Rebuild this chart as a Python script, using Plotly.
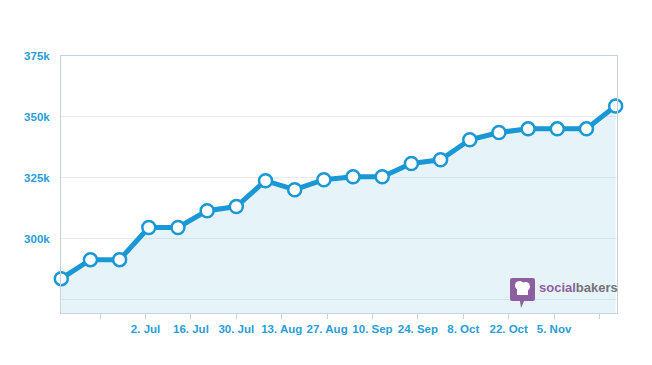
import plotly.graph_objects as go

dates = ["2012-06-06", "2012-06-15", "2012-06-24", "2012-07-03", "2012-07-12",
         "2012-07-21", "2012-07-30", "2012-08-08", "2012-08-17", "2012-08-26",
         "2012-09-04", "2012-09-13", "2012-09-22", "2012-10-01", "2012-10-10",
         "2012-10-19", "2012-10-28", "2012-11-06", "2012-11-15", "2012-11-24"]
fans = [283600, 291400, 291400, 304600, 304600, 311500, 313200, 323800, 320100, 324200,
        325400, 325400, 330900, 332400, 340600, 343600, 345100, 345100, 345100, 354500]

x_tickvals = ["2012-06-18", "2012-07-02", "2012-07-16", "2012-07-30", "2012-08-13",
              "2012-08-27", "2012-09-10", "2012-09-24", "2012-10-08", "2012-10-22",
              "2012-11-05", "2012-11-19"]
x_ticktext = ["", "2. Jul", "16. Jul", "30. Jul", "13. Aug", "27. Aug", "10. Sep",
              "24. Sep", "8. Oct", "22. Oct", "5. Nov", ""]
y_tickvals = [275000, 300000, 325000, 350000, 375000]
y_ticktext = ["", "300k", "325k", "350k", "375k"]

BLUE = "#1a98d5"
LABEL = "#2a9dd8"
AXIS = "#c4d3e0"
GRID = "#e8ecf0"

# page body has an 8px default margin, so figure is 644x357 with plot at (61..617, 56..313) on screen
OFF = 8
W, H = 644, 357
L, R, T, B = 61 - OFF, W - (617 - OFF), 56 - OFF, H - (313 - OFF)

fig = go.Figure()
fig.add_trace(go.Scatter(
    x=dates, y=fans, mode="lines+markers",
    line=dict(color=BLUE, width=5),
    marker=dict(size=13, color="white", line=dict(color=BLUE, width=2.5)),
    fill="tozeroy", fillcolor="rgba(26,152,213,0.11)",
    cliponaxis=False, hoverinfo="x+y",
))

def px(x):
    return (x - 61) / 556

def py(y):
    return (313 - y) / 257

logo_path = (f"M {px(512)},{py(278)} L {px(533)},{py(278)} Q {px(535)},{py(278)} {px(535)},{py(280)} "
             f"L {px(535)},{py(299)} Q {px(535)},{py(301)} {px(533)},{py(301)} "
             f"L {px(524)},{py(301)} L {px(521)},{py(308)} L {px(520)},{py(301)} "
             f"L {px(512)},{py(301)} Q {px(510)},{py(301)} {px(510)},{py(299)} "
             f"L {px(510)},{py(280)} Q {px(510)},{py(278)} {px(512)},{py(278)} Z")
shapes = [
    dict(type="path", xref="paper", yref="paper", path=logo_path,
         fillcolor="#8d5fa0", line=dict(width=0), layer="above"),
    dict(type="circle", xref="paper", yref="paper", x0=px(515), x1=px(524), y0=py(290), y1=py(281),
         fillcolor="white", line=dict(width=0), layer="above"),
    dict(type="circle", xref="paper", yref="paper", x0=px(521), x1=px(530), y0=py(291), y1=py(282),
         fillcolor="white", line=dict(width=0), layer="above"),
    dict(type="rect", xref="paper", yref="paper", x0=px(517), x1=px(528), y0=py(295), y1=py(289),
         fillcolor="white", line=dict(width=0), layer="above"),
]

fig.update_layout(
    width=W, height=H,
    margin=dict(l=L, r=R, t=T, b=B),
    paper_bgcolor="white", plot_bgcolor="white",
    showlegend=False,
    shapes=shapes,
    annotations=[dict(
        xref="paper", yref="paper", x=px(537), y=py(287), xanchor="left", yanchor="middle",
        text="<span style='color:#8d5fa0'>social</span><span style='color:#74727a'>bakers</span>",
        showarrow=False, font=dict(family="Liberation Sans, Arial", size=13, weight="bold"),
    )],
    xaxis=dict(
        type="date", range=["2012-06-05 22:00", "2012-11-24 10:00"],
        tickvals=x_tickvals, ticktext=x_ticktext,
        ticks="outside", ticklen=5, tickcolor=AXIS, tickwidth=1,
        showgrid=False, showline=True, linecolor=AXIS, linewidth=1, mirror=True,
        zeroline=False,
        tickfont=dict(family="Liberation Sans, Arial", size=11.5, color=LABEL, weight="bold"),
    ),
    yaxis=dict(
        range=[269500, 375000],
        tickvals=y_tickvals, ticktext=y_ticktext,
        showgrid=True, gridcolor=GRID, gridwidth=1,
        showline=True, linecolor=AXIS, linewidth=1, mirror=True,
        zeroline=False, ticks="", ticklabelstandoff=8,
        tickfont=dict(family="Liberation Sans, Arial", size=11.5, color=LABEL, weight="bold"),
    ),
)

fig.write_html("out.html")
